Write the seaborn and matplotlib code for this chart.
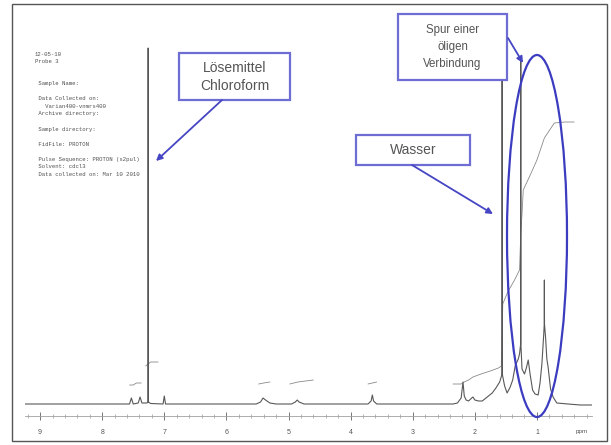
import matplotlib
matplotlib.use("Agg")
import matplotlib.pyplot as plt
import matplotlib.patches as mpatches
import pandas as pd
import seaborn as sns

sns.set_style("white")
plt.rcParams['font.family'] = ['Liberation Sans', 'DejaVu Sans']

# 1H NMR spectrum (ppm, intensity above baseline)
spec_ppm = [9.24, 8.40, 7.60, 7.56, 7.53, 7.50, 7.42, 7.39, 7.36, 7.28,
            7.262, 7.260, 7.258, 7.22, 7.02, 7.00, 6.98, 6.50, 5.52, 5.45,
            5.41, 5.37, 5.30, 5.20, 4.95, 4.89, 4.86, 4.83, 4.75, 3.72,
            3.67, 3.65, 3.63, 3.58, 2.35, 2.28, 2.22, 2.19, 2.17, 2.14,
            2.10, 2.05, 2.03, 2.00, 1.94, 1.88, 1.80, 1.72, 1.66, 1.60,
            1.57, 1.562, 1.560, 1.558, 1.52, 1.48, 1.43, 1.39, 1.35, 1.30,
            1.28, 1.262, 1.260, 1.258, 1.24, 1.20, 1.17, 1.14, 1.11, 1.07,
            1.03, 0.98, 0.95, 0.92, 0.89, 0.882, 0.880, 0.878, 0.86, 0.84,
            0.82, 0.78, 0.74, 0.68, 0.50, 0.30, 0.11]
spec_int = [0, 0, 0, 0, 6, 0, 1, 7, 1, 1,
            2, 356, 2, 0.5, 0, 8, 0, 0, 0, 2,
            6, 4, 1, 0, 0, 2, 4, 2, 0, 0,
            3, 9, 3, 0, 0, 1, 6, 22, 8, 4,
            3, 6, 7, 4, 3, 3, 7, 11, 16, 22,
            28, 30, 374, 30, 18, 11, 17, 24, 38, 45,
            50, 60, 346, 60, 35, 30, 36, 44, 30, 14,
            10, 9, 21, 40, 70, 80, 124, 80, 66, 45,
            37, 15, 7, 1, 0, -1, -1]

# integral traces
int_a_ppm = [7.56, 7.50, 7.45, 7.37]
int_a_val = [19, 19, 21, 21]
int_b_ppm = [7.30, 7.26, 7.22, 7.10]
int_b_val = [38, 40, 42, 42]
int_c_ppm = [5.48, 5.40, 5.30]
int_c_val = [20, 21, 22]
int_d_ppm = [4.98, 4.85, 4.60]
int_d_val = [20, 22, 24]
int_e_ppm = [3.72, 3.65, 3.58]
int_e_val = [20, 21, 22]
int_f_ppm = [2.35, 2.22, 2.17, 2.10, 2.03, 1.90, 1.75, 1.62, 1.57, 1.55,
             1.47, 1.36, 1.28, 1.26, 1.24, 1.22, 1.10, 1.00, 0.88, 0.72,
             0.55, 0.40]
int_f_val = [20, 20, 22, 24, 27, 30, 33, 36, 38, 100,
             112, 124, 134, 170, 190, 214, 230, 244, 266, 281,
             282, 282]

tick_pos = [1, 2, 3, 4, 5, 6, 7, 8, 9]
tick_lab = ['1', '2', '3', '4', '5', '6', '7', '8', '9']

header_lines = ["12-05-10", "Probe 3", "", "",
                " Sample Name:", "",
                " Data Collected on:", "   Varian400-vnmrs400",
                " Archive directory:", "",
                " Sample directory:", "",
                " FidFile: PROTON", "",
                " Pulse Sequence: PROTON (s2pul)",
                " Solvent: cdcl3",
                " Data collected on: Mar 10 2010"]

spec = pd.DataFrame({'ppm': spec_ppm, 'intensity': spec_int})
segs = [(int_a_ppm, int_a_val), (int_b_ppm, int_b_val), (int_c_ppm, int_c_val),
        (int_d_ppm, int_d_val), (int_e_ppm, int_e_val), (int_f_ppm, int_f_val)]
integ = pd.concat([pd.DataFrame({'ppm': p, 'val': v, 'seg': i})
                   for i, (p, v) in enumerate(segs)])

W, H = 611, 445
fig = plt.figure(figsize=(W / 100, H / 100), dpi=100)
ax = fig.add_axes([25 / W, 29 / H, 567 / W, 411 / H])

sns.lineplot(data=integ, x='ppm', y='val', units='seg', estimator=None,
             sort=False, color='#8a8a8a', lw=0.6, ax=ax)
sns.lineplot(data=spec, x='ppm', y='intensity', sort=False, estimator=None,
             color='#585858', lw=0.8, ax=ax)

ax.set_xlim(9.243, 0.113)
ax.set_ylim(-12, 399)
ax.set_xlabel('')
ax.set_ylabel('')
ax.set_yticks([])
ax.set_xticks(tick_pos)
ax.set_xticklabels(tick_lab)
ax.set_xticks([t / 5 for t in range(1, 47) if t % 5], minor=True)
ax.tick_params(axis='x', which='both', bottom=True)
ax.tick_params(axis='x', which='major', direction='inout', length=6, width=0.7,
               colors='#777', labelsize=5, labelcolor='#555', pad=6)
ax.tick_params(axis='x', which='minor', direction='inout', length=3, width=0.5,
               colors='#999')
for s in ['left', 'right', 'top']:
    ax.spines[s].set_visible(False)
ax.spines['bottom'].set_color('#a0a0a0')
ax.spines['bottom'].set_linewidth(0.6)
ax.patch.set_alpha(0)

# overlay in pixel coordinates for the annotations
ov = fig.add_axes([0, 0, 1, 1])
ov.set_xlim(0, W)
ov.set_ylim(H, 0)
ov.axis('off')
ov.patch.set_alpha(0)

ov.add_patch(mpatches.Rectangle((12, 4), 595, 437, fill=False, ec='#555', lw=1.0))

for i, line in enumerate(header_lines):
    ov.text(35, 54 + i * 7.5, line, family='Liberation Mono', fontsize=4.1,
            color='#505050', va='center', ha='left')

ov.text(582, 432, 'ppm', fontsize=4.5, color='#555', ha='center', va='center')

box_ec = '#6d6dd4'
arrow_c = '#4646c4'
txt_c = '#555555'

ov.add_patch(mpatches.Rectangle((179, 53), 111, 47, fc='white', ec=box_ec, lw=1.6))
ov.text(234.5, 77, 'Lösemittel\nChloroform', fontsize=10, linespacing=1.35,
        color=txt_c, ha='center', va='center')
ov.annotate('', xy=(156, 161), xytext=(222, 100),
            arrowprops=dict(arrowstyle='-|>', color=arrow_c, lw=1.3,
                            mutation_scale=9, shrinkA=0, shrinkB=0))

ov.add_patch(mpatches.Rectangle((356, 135), 114, 30, fc='white', ec=box_ec, lw=1.6))
ov.text(413, 150, 'Wasser', fontsize=10, color=txt_c, ha='center', va='center')
ov.annotate('', xy=(493, 214), xytext=(412, 165),
            arrowprops=dict(arrowstyle='-|>', color=arrow_c, lw=1.3,
                            mutation_scale=9, shrinkA=0, shrinkB=0))

ov.add_patch(mpatches.Rectangle((398, 14), 109, 66, fc='white', ec=box_ec, lw=1.6))
ov.text(452.5, 47, 'Spur einer\nöligen\nVerbindung', fontsize=8.3, linespacing=1.5,
        color=txt_c, ha='center', va='center')
ov.annotate('', xy=(523, 63), xytext=(508, 38),
            arrowprops=dict(arrowstyle='-|>', color=arrow_c, lw=1.3,
                            mutation_scale=9, shrinkA=0, shrinkB=0))

ov.add_patch(mpatches.Ellipse((537, 236), 60, 362, fill=False, ec='#3c3cc0', lw=1.6))

fig.savefig('out.png', dpi=100)
